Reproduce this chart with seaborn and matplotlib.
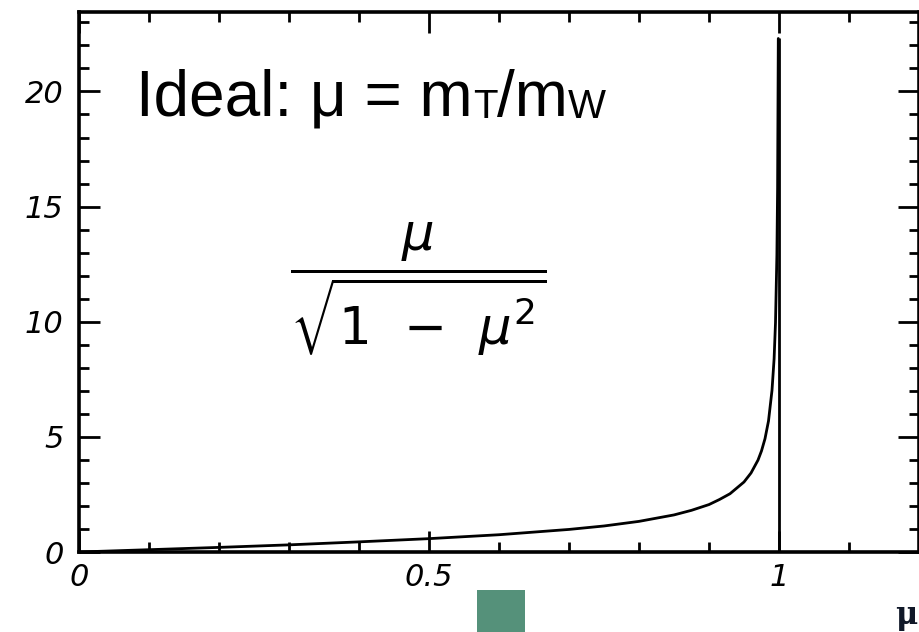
import matplotlib
matplotlib.use("Agg")
import matplotlib.pyplot as plt
import seaborn as sns
from matplotlib.patches import Rectangle
from matplotlib.ticker import MultipleLocator

# Ratio mu = mT/mW and the Jacobian peak mu/sqrt(1-mu^2)
mu = [0.0, 0.1, 0.2, 0.3, 0.4, 0.5, 0.6, 0.7, 0.75, 0.8, 0.85, 0.875, 0.9,
      0.915, 0.93, 0.95, 0.96, 0.97, 0.975, 0.98, 0.985, 0.99, 0.993,
      0.995, 0.997, 0.998, 0.999]
density = [0.0, 0.10, 0.20, 0.31, 0.44, 0.58, 0.75, 0.98, 1.13, 1.33, 1.61,
           1.81, 2.06, 2.28, 2.53, 3.04, 3.43, 3.99, 4.39, 4.92, 5.69, 7.02,
           8.39, 9.96, 12.9, 15.8, 22.3]

edge_mu = 1.0
edge_top = 22.3

x_ticks = [0, 0.5, 1]
x_tick_labels = ["0", "0.5", "1"]
y_ticks = [0, 5, 10, 15, 20]
y_tick_labels = ["0", "5", "10", "15", "20"]

sns.set_theme(style="white")
plt.rcParams["font.family"] = ["Liberation Sans", "DejaVu Sans"]

fig = plt.figure(figsize=(9.19, 6.32), dpi=100)
ax = fig.add_axes([79 / 919, 1 - 552 / 632, (919 - 79) / 919, (552 - 12) / 632])

sns.lineplot(x=mu, y=density, sort=False, estimator=None, color="black",
             linewidth=2.0, ax=ax)
ax.vlines(edge_mu, 0, edge_top, color="black", linewidth=2.0)

ax.set_xlim(0, 1.2)
ax.set_ylim(0, 23.45)

ax.set_xticks(x_ticks)
ax.set_xticklabels(x_tick_labels)
ax.set_yticks(y_ticks)
ax.set_yticklabels(y_tick_labels)
ax.xaxis.set_minor_locator(MultipleLocator(0.1))
ax.yaxis.set_minor_locator(MultipleLocator(1))

for s in ax.spines.values():
    s.set_visible(True)
    s.set_color("black")
    s.set_linewidth(2.6)

ax.tick_params(which="both", direction="in", top=True, right=True,
               bottom=True, left=True, color="black", width=2.0)
ax.tick_params(which="major", length=15)
ax.tick_params(which="minor", length=7)
ax.tick_params(axis="x", which="major", pad=8, labelsize=22,
               labelcolor="black")
ax.tick_params(axis="y", which="major", pad=11, labelsize=22,
               labelcolor="black")
for lab in ax.get_xticklabels() + ax.get_yticklabels():
    lab.set_fontstyle("italic")
    lab.set_family(["DejaVu Sans"])

ax.set_xlabel("")
ax.set_ylabel("")

# Headline with small subscripts, laid out piece by piece on one baseline
renderer = fig.canvas.get_renderer()
pieces = [("Ideal: μ = m", 46, 0), ("T", 29, 2), ("/m", 46, 0), ("W", 29, 2)]
x_px = 136
base_px = 116
for txt, size, drop in pieces:
    t = fig.text(x_px / 919, 1 - (base_px + drop) / 632, txt, fontsize=size,
                 color="black", ha="left", va="baseline",
                 family=["Liberation Sans"])
    bb = t.get_window_extent(renderer=renderer)
    x_px += bb.width

fig.text(418 / 919, 1 - 289 / 632,
         r"$\dfrac{\mu}{\sqrt{1\;\,-\;\,\mu^2}}$",
         fontsize=37, color="black", ha="center", va="center",
         math_fontfamily="dejavusans")

fig.text(917 / 919, 1 - 624 / 632, "μ", fontsize=22, color="#101828",
         ha="right", va="baseline", family=["DejaVu Serif"], weight="bold")

fig.patches.append(Rectangle((477 / 919, 0), 48 / 919, 42 / 632,
                             transform=fig.transFigure, facecolor="#55917a",
                             edgecolor="none"))

fig.savefig("out.png", dpi=100)
